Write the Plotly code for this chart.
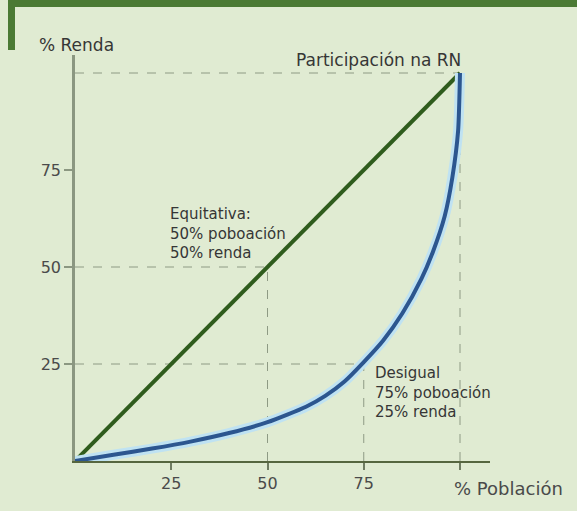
import plotly.graph_objects as go

# ---- data ----
equality_x = [0, 100]
equality_y = [0, 100]

lorenz_x = [0, 10, 20, 30, 40, 50, 60, 65, 70, 75, 80, 85, 90, 93, 96, 98, 99.5, 100]
lorenz_y = [0, 1.6, 3.2, 5, 7.2, 10, 14, 16.8, 20.5, 25.5, 31, 38, 47, 54, 63, 73, 85, 100]

guide_x = [50, 75, 100]
guide_y = [50, 25, 100]

x_tickvals = [25, 50, 75, 100]
x_ticktext = ["25", "50", "75", ""]
y_tickvals = [25, 50, 75]
y_ticktext = ["25", "50", "75"]

BG = "#e0ebd2"
TXT = "#363636"
FONT = "DejaVu Sans, Liberation Sans, Arial, sans-serif"

fig = go.Figure()

fig.add_trace(go.Scatter(x=equality_x, y=equality_y, mode="lines",
                         line=dict(color="#2f5c1d", width=4),
                         hoverinfo="skip", showlegend=False))
fig.add_trace(go.Scatter(x=lorenz_x, y=lorenz_y, mode="lines",
                         line=dict(color="#bfe2f2", width=10, shape="spline", smoothing=0.6),
                         hoverinfo="skip", showlegend=False))
fig.add_trace(go.Scatter(x=lorenz_x, y=lorenz_y, mode="lines",
                         line=dict(color="#2c568f", width=4, shape="spline", smoothing=0.6),
                         hoverinfo="skip", showlegend=False))

shapes = []
for gx, gy in zip(guide_x, guide_y):
    shapes.append(dict(type="line", xref="x", yref="y", x0=0, y0=gy, x1=gx, y1=gy,
                       line=dict(color="#8e9a84", width=1, dash="dash"), layer="below"))
    shapes.append(dict(type="line", xref="x", yref="y", x0=gx, y0=0, x1=gx, y1=gy,
                       line=dict(color="#8e9a84", width=1, dash="dash"), layer="below"))

# decorative frame strips (pixel -> paper conversion)
L, R, T, B = 75, 87, 55, 50
W, H = 577, 511
pw, ph = W - L - R, H - T - B
def px(xp):
    return (xp - L) / pw
def py(yp):
    return (H - B - yp) / ph
shapes.append(dict(type="rect", xref="paper", yref="paper",
                   x0=px(8), x1=px(577), y0=py(7), y1=py(0),
                   fillcolor="#4b7a34", line=dict(width=0)))
shapes.append(dict(type="rect", xref="paper", yref="paper",
                   x0=px(8), x1=px(15), y0=py(50), y1=py(0),
                   fillcolor="#4b7a34", line=dict(width=0)))

annotations = [
    dict(text="% Renda", xref="paper", yref="paper", x=px(37), y=py(45),
         xanchor="left", yanchor="middle", showarrow=False, font=dict(size=17)),
    dict(text="% Población", xref="paper", yref="paper", x=px(452), y=py(488),
         xanchor="left", yanchor="middle", showarrow=False, font=dict(size=18, color="#4a4a4a")),
    dict(text="Participación na RN", xref="paper", yref="paper", x=px(463), y=py(60),
         xanchor="right", yanchor="middle", showarrow=False, font=dict(size=17)),
    dict(text="Equitativa:<br>50% poboación<br>50% renda", xref="x", yref="y",
         x=24.2, y=66.5, xanchor="left", yanchor="top", align="left", showarrow=False,
         font=dict(size=15)),
    dict(text="Desigual<br>75% poboación<br>25% renda", xref="x", yref="y",
         x=77.4, y=25.5, xanchor="left", yanchor="top", align="left", showarrow=False,
         font=dict(size=15)),
]

fig.update_layout(
    width=W, height=H,
    margin=dict(l=L, r=R, t=T, b=B),
    paper_bgcolor=BG, plot_bgcolor=BG,
    font=dict(family=FONT, size=16, color=TXT),
    shapes=shapes, annotations=annotations,
    xaxis=dict(range=[0, 100 * pw / 385], showgrid=False, zeroline=False,
               showline=True, linecolor="#56663f", linewidth=2,
               ticks="outside", ticklen=7, tickwidth=1.5, tickcolor="#6f7c62",
               tickvals=x_tickvals, ticktext=x_ticktext, fixedrange=True,
               tickfont=dict(color="#4a4a4a")),
    yaxis=dict(range=[0, 100 * ph / 388], showgrid=False, zeroline=False,
               showline=True, linecolor="#8b9781", linewidth=2.5,
               ticks="outside", ticklen=8, tickwidth=1.5, tickcolor="#8b9781",
               tickvals=y_tickvals, ticktext=y_ticktext, fixedrange=True,
               tickfont=dict(color="#4a4a4a")),
)

fig.write_html("out.html", config={"displayModeBar": False},
               post_script="document.body.style.margin='0';document.body.style.overflow='hidden';")
